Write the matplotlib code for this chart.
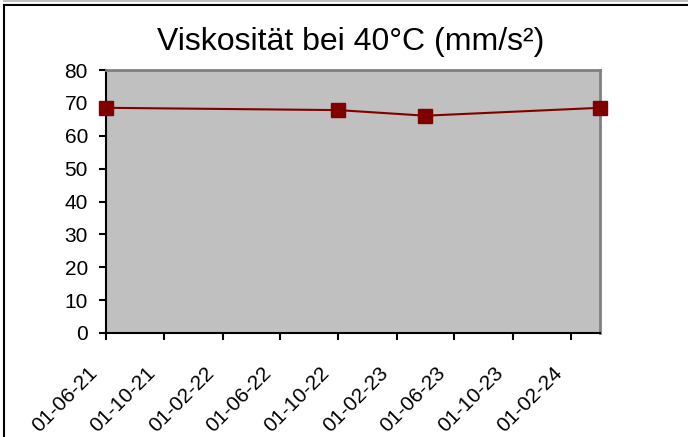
import numpy as np
import matplotlib
matplotlib.use("Agg")
import matplotlib.pyplot as plt
import matplotlib.dates as mdates
import matplotlib.transforms as mtransforms
from matplotlib.lines import Line2D
from matplotlib.patches import Rectangle
import datetime as dt

# ---- Daten ----
messdaten = [dt.date(2021, 6, 1), dt.date(2022, 10, 1),
             dt.date(2023, 4, 1), dt.date(2024, 4, 1)]
viskositaet = [68.5, 67.8, 66.1, 68.5]
tick_daten = [dt.date(2021, 6, 1), dt.date(2021, 10, 1), dt.date(2022, 2, 1),
              dt.date(2022, 6, 1), dt.date(2022, 10, 1), dt.date(2023, 2, 1),
              dt.date(2023, 6, 1), dt.date(2023, 10, 1), dt.date(2024, 2, 1)]
titel = "Viskosität bei 40°C (mm/s²)"

plt.rcParams['font.family'] = ['Liberation Sans', 'DejaVu Sans']

W, H = 688, 437
fig = plt.figure(figsize=(W / 100, H / 100), dpi=100)
ax = fig.add_axes([106 / W, 1 - 333 / H, (600 - 106) / W, (333 - 70) / H])

# Rahmen: grauer Streifen oben, schwarze Linie oben und links
fig.patches.append(Rectangle((3 / W, 1 - 2 / H), 1, 2 / H, transform=fig.transFigure,
                             facecolor='#c0c0c0', edgecolor='none'))
fig.lines.append(Line2D([3.5 / W, 1], [1 - 4.5 / H, 1 - 4.5 / H],
                        transform=fig.transFigure, color='black', linewidth=1.5))
fig.lines.append(Line2D([3.5 / W, 3.5 / W], [0, 1 - 4.5 / H],
                        transform=fig.transFigure, color='black', linewidth=1.5))

ax.set_facecolor('#c0c0c0')
ax.plot(messdaten, viskositaet, color='#800000', linewidth=1.5,
        marker='s', markersize=10.5, markerfacecolor='#800000',
        markeredgecolor='#800000', clip_on=False, zorder=3)

ax.set_ylim(0, 80)
ax.set_yticks(np.arange(0, 81, 10))
ax.set_xlim(mdates.date2num(dt.date(2021, 6, 1)), mdates.date2num(dt.date(2024, 4, 1)))
ax.set_xticks(mdates.date2num(tick_daten))
ax.set_xticklabels([d.strftime("%d-%m-%y") for d in tick_daten],
                   rotation=45, ha='right', va='center', rotation_mode='anchor')

for s in ['top', 'right']:
    ax.spines[s].set_color('#808080')
    ax.spines[s].set_linewidth(2)
for s in ['left', 'bottom']:
    ax.spines[s].set_color('black')
    ax.spines[s].set_linewidth(1.5)

ax.tick_params(axis='both', direction='out', length=5, width=1.5,
               labelsize=15, colors='black')
ax.tick_params(axis='y', pad=8)
ax.tick_params(axis='x', pad=0)

verschiebung = mtransforms.ScaledTranslation(-12 / 100, -30 / 100, fig.dpi_scale_trans)
for lbl in ax.get_xticklabels():
    lbl.set_transform(lbl.get_transform() + verschiebung)

fig.text(351 / W, 1 - 42 / H, titel, ha='center', va='center', fontsize=23)

fig.savefig("out.png", dpi=100)
